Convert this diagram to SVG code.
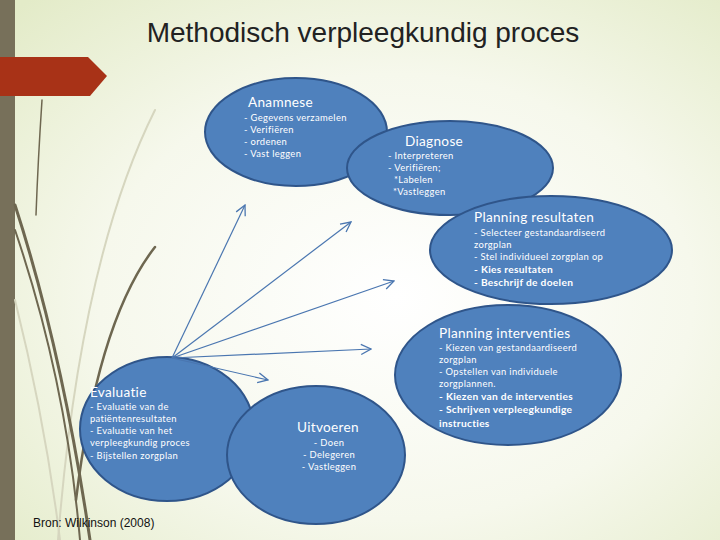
<svg xmlns="http://www.w3.org/2000/svg" width="720" height="540" viewBox="0 0 720 540">
<defs>
<radialGradient id="bg" cx="0.55" cy="0.55" r="0.75">
<stop offset="0" stop-color="#ffffff"/>
<stop offset="0.55" stop-color="#f6f8ec"/>
<stop offset="1" stop-color="#e3ebc8"/>
</radialGradient>
<marker id="ah" viewBox="0 0 12 12" refX="11" refY="6" markerWidth="12" markerHeight="12" markerUnits="userSpaceOnUse" orient="auto">
<path d="M1 1 L11 6 L1 11" fill="none" stroke="#4a76b0" stroke-width="1.3"/>
</marker>
<style>
.node ellipse{fill:#4f81bd;stroke:#2f558a;stroke-width:2}
.t{font-family:Lato,"Open Sans",sans-serif;fill:#ffffff}
.h{font-size:13.6px;letter-spacing:0.3px}
.b{font-size:9.4px;letter-spacing:0.35px}
.bb{font-size:10.2px;font-weight:bold;letter-spacing:0.3px}
.conn line{stroke:#4a76b0;stroke-width:1.2;marker-end:url(#ah)}
</style>
</defs>
<rect width="720" height="540" fill="url(#bg)"/>
<rect x="0" y="0" width="15" height="540" fill="#77705a"/>
<g fill="none" stroke-linecap="round">
<path d="M155 110 Q80 260 58 540" stroke="#d6d6bf" stroke-width="2"/>
<path d="M15 300 Q45 420 60 540" stroke="#d6d6bf" stroke-width="2"/>
<path d="M42 100 Q38 160 36 215" stroke="#6e6750" stroke-width="1.5"/>
<path d="M15 205 Q62 350 90 540" stroke="#6e6750" stroke-width="3"/>
<path d="M15 230 Q66 380 80 540" stroke="#6e6750" stroke-width="2"/>
<path d="M155 247 Q98 320 76 500" stroke="#6e6750" stroke-width="2.5"/>
</g>
<path d="M0 57 L88 57 L107 76 L90 96 L0 96 Z" fill="#a83217"/>
<text x="363" y="42" text-anchor="middle" font-family="Liberation Sans,Arial,sans-serif" font-size="28" fill="#222">Methodisch verpleegkundig proces</text>
<text x="33" y="527" font-family="Liberation Sans,Arial,sans-serif" font-size="12" fill="#111">Bron: Wilkinson (2008)</text>

<g id="anamnese" class="node">
<ellipse cx="296" cy="132" rx="91" ry="54"/>
<text class="t h" x="248" y="107">Anamnese</text>
<text class="t b" x="244" y="121">- Gegevens  verzamelen</text>
<text class="t b" x="244" y="133">- Verifiëren</text>
<text class="t b" x="244" y="145">-  ordenen</text>
<text class="t b" x="244" y="157">- Vast leggen</text>
</g>
<g id="diagnose" class="node">
<ellipse cx="450" cy="168" rx="103" ry="47"/>
<text class="t h" x="405" y="146">Diagnose</text>
<text class="t b" x="388" y="159">- Interpreteren</text>
<text class="t b" x="388" y="171">- Verifiëren;</text>
<text class="t b" x="394" y="183">*Labelen</text>
<text class="t b" x="393" y="195">*Vastleggen</text>
</g>
<g id="planning-resultaten" class="node">
<ellipse cx="551" cy="250" rx="121" ry="54"/>
<text class="t h" x="474" y="222">Planning resultaten</text>
<text class="t b" x="474" y="236">- Selecteer gestandaardiseerd</text>
<text class="t b" x="474" y="248">zorgplan</text>
<text class="t b" x="474" y="260">- Stel individueel zorgplan op</text>
<text class="t bb" x="474" y="273">- Kies resultaten</text>
<text class="t bb" x="474" y="286">- Beschrijf de doelen</text>
</g>
<g id="planning-interventies" class="node">
<ellipse cx="508" cy="375" rx="113" ry="70"/>
<text class="t h" x="439" y="338">Planning interventies</text>
<text class="t b" x="439" y="351">- Kiezen van gestandaardiseerd</text>
<text class="t b" x="439" y="363">zorgplan</text>
<text class="t b" x="439" y="375">- Opstellen van individuele</text>
<text class="t b" x="439" y="387">zorgplannen.</text>
<text class="t bb" x="439" y="400">- Kiezen van de interventies</text>
<text class="t bb" x="439" y="413">- Schrijven verpleegkundige</text>
<text class="t bb" x="439" y="427">instructies</text>
</g>
<g id="evaluatie" class="node">
<ellipse cx="167" cy="429" rx="87" ry="72"/>
<text class="t h" x="90" y="397">Evaluatie</text>
<text class="t b" x="90" y="410">- Evaluatie van de</text>
<text class="t b" x="90" y="422">patiëntenresultaten</text>
<text class="t b" x="90" y="434">- Evaluatie van het</text>
<text class="t b" x="90" y="446">verpleegkundig proces</text>
<text class="t b" x="90" y="459">- Bijstellen zorgplan</text>
</g>
<g id="uitvoeren" class="node">
<ellipse cx="316" cy="455" rx="89" ry="69"/>
<text class="t h" x="328" y="432" text-anchor="middle">Uitvoeren</text>
<text class="t b" x="329" y="446" text-anchor="middle">- Doen</text>
<text class="t b" x="329" y="458" text-anchor="middle">- Delegeren</text>
<text class="t b" x="329" y="470" text-anchor="middle">- Vastleggen</text>
</g>
<g id="connectors" class="conn">
<line x1="172" y1="358" x2="245" y2="205"/>
<line x1="172" y1="358" x2="351" y2="222"/>
<line x1="172" y1="358" x2="394" y2="281"/>
<line x1="172" y1="358" x2="371" y2="349"/>
<line x1="172" y1="358" x2="268" y2="380"/>
</g>
</svg>
